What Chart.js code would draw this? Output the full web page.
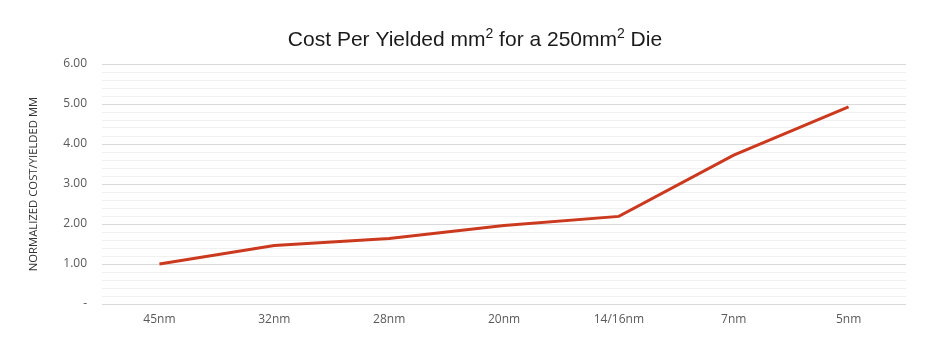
<!DOCTYPE html>
<html>
<head>
<meta charset="utf-8">
<script src="https://cdn.jsdelivr.net/npm/chart.js@4.4.0/dist/chart.umd.min.js"></script>
<style>
  html, body { margin: 0; padding: 0; background: #fff; }
  #wrap { width: 950px; height: 360px; }
</style>
</head>
<body>
<div id="wrap"><canvas id="cost-chart"></canvas></div>
<script>
const nodes = ['45nm', '32nm', '28nm', '20nm', '14/16nm', '7nm', '5nm'];
const costPerMm = [1.00, 1.46, 1.64, 1.96, 2.19, 3.72, 4.93];
const yMax = 6;
const yStep = 0.2;
// title pieces, second field marks superscript
const titleParts = [['Cost Per Yielded mm', false], ['2', true], [' for a 250mm', false], ['2', true], [' Die', false]];

// draws the title with real superscripts, centred on the canvas
const supTitle = {
    id: 'supTitle',
    afterDraw: (chart) => {
        const c = chart.ctx;
        const base = '21px "Liberation Sans", Arial, sans-serif';
        const sup = '14px "Liberation Sans", Arial, sans-serif';
        c.save();
        c.fillStyle = '#1a1a1a';
        c.textBaseline = 'alphabetic';
        c.textAlign = 'left';
        let total = 0;
        titleParts.forEach(([t, s]) => { c.font = s ? sup : base; total += c.measureText(t).width; });
        let x = chart.width / 2 - total / 2;
        const y = 46;
        titleParts.forEach(([t, s]) => {
            c.font = s ? sup : base;
            c.fillText(t, x, s ? y - 8 : y);
            x += c.measureText(t).width;
        });
        c.restore();
    }
};

const ctx = document.getElementById('cost-chart').getContext('2d');
const costChart = new Chart(ctx, {
    type: 'line',
    data: {
        labels: nodes,
        datasets: [
            { label: 'Cost', data: costPerMm, borderColor: '#cb3a1f', borderWidth: 3, pointRadius: 0, tension: 0, fill: false, yAxisID: 'y' }
        ]
    },
    options: {
        responsive: true,
        maintainAspectRatio: false,
        animation: false,
        layout: { padding: { left: 0, right: 44, top: 64, bottom: 36 } },
        plugins: {
            legend: { display: false },
            tooltip: { enabled: false },
            title: { display: false }
        },
        scales: {
            x: {
                offset: true,
                grid: { display: false, drawTicks: false },
                border: { display: false },
                ticks: { color: '#595959', padding: 8, font: { family: 'Open Sans', size: 12 } },
                afterFit: (scale) => { scale.height = 20; }
            },
            y: {
                min: 0,
                max: yMax,
                border: { display: false },
                grid: {
                    drawTicks: false,
                    lineWidth: 1,
                    color: (c) => Math.abs(c.tick.value - Math.round(c.tick.value)) < 1e-6 ? '#d9d9d9' : '#f0f0f0'
                },
                ticks: {
                    stepSize: yStep,
                    autoSkip: false,
                    padding: 15,
                    color: '#595959',
                    font: { family: 'Open Sans', size: 12 },
                    callback: (v) => {
                        if (Math.abs(v - Math.round(v)) > 1e-6) return '';
                        return Math.round(v) === 0 ? '-' : Math.round(v).toFixed(2);
                    }
                },
                title: {
                    display: true,
                    text: 'NORMALIZED COST/YIELDED MM',
                    color: '#333333',
                    font: { family: 'Open Sans', size: 11.3 },
                    padding: { top: 27, bottom: 0 }
                },
                afterFit: (scale) => { scale.width = 102; }
            }
        }
    },
    plugins: [supTitle]
});
</script>
</body>
</html>
